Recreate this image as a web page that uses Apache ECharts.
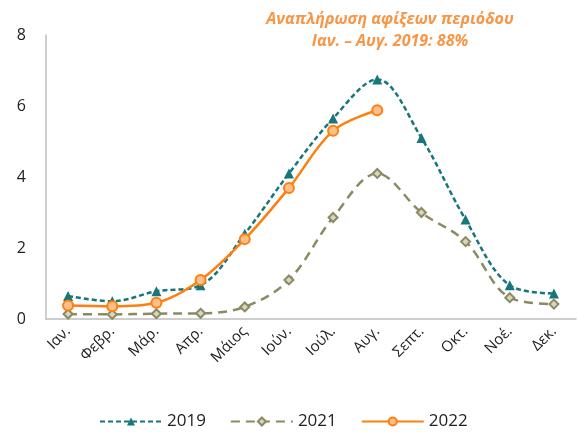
<!DOCTYPE html>
<html>
<head>
<meta charset="utf-8">
<script src="https://cdn.jsdelivr.net/npm/echarts@6/dist/echarts.min.js"></script>
<style>
html, body { margin: 0; padding: 0; background: #fff; }
#chart { width: 578px; height: 432px; }
</style>
</head>
<body>
<div id="chart"></div>
<script>
// months
var months = ['Ιαν.', 'Φεβρ.', 'Μάρ.', 'Απρ.', 'Μάιος', 'Ιούν.', 'Ιούλ.', 'Αυγ.', 'Σεπτ.', 'Οκτ.', 'Νοέ.', 'Δεκ.']
var arrivals2019 = [0.65, 0.5, 0.78, 0.95, 2.4, 4.1, 5.65, 6.75, 5.1, 2.8, 0.95, 0.72]
var arrivals2021 = [0.14, 0.13, 0.15, 0.16, 0.34, 1.1, 2.86, 4.1, 3.0, 2.18, 0.6, 0.42]
var arrivals2022 = [0.38, 0.36, 0.46, 1.1, 2.25, 3.69, 5.3, 5.88]
var yTicks = [0, 2, 4, 6, 8]

var font = 'Open Sans'
var myChart = echarts.init(document.getElementById('chart'))
myChart.setOption({
    textStyle: { fontFamily: font },
    title: {
        text: 'Αναπλήρωση αφίξεων περιόδου\nΙαν. – Αυγ. 2019: 88%',
        left: 385,
        top: 3,
        textAlign: 'center',
        textStyle: {
            color: '#f79646',
            fontSize: 16,
            fontWeight: 'bold',
            fontStyle: 'italic',
            lineHeight: 22,
            fontFamily: font
        }
    },
    grid: { left: 46, right: 2, top: 35, bottom: 113 },
    legend: {
        top: 408,
        left: 94,
        itemWidth: 62,
        itemHeight: 10,
        itemGap: 24,
        textStyle: { fontSize: 17, color: '#222', fontFamily: font },
        data: ['2019', '2021', '2022']
    },
    xAxis: {
        type: 'category',
        data: months,
        boundaryGap: true,
        axisTick: { show: false },
        axisLine: { lineStyle: { color: '#bfbfbf', width: 1.5 } },
        axisLabel: { rotate: 45, fontSize: 15, color: '#222', margin: 10, interval: 0 }
    },
    yAxis: {
        type: 'value',
        min: yTicks[0],
        max: yTicks[yTicks.length - 1],
        interval: 2,
        axisLine: { show: true, lineStyle: { color: '#bfbfbf', width: 1.5 } },
        axisTick: { show: false },
        splitLine: { show: false },
        axisLabel: { fontSize: 16, color: '#222', margin: 20 }
    },
    series: [
        {
            name: '2019',
            type: 'line',
            data: arrivals2019,
            smooth: 0.35,
            symbol: 'triangle',
            symbolSize: 10,
            lineStyle: { color: '#17767a', width: 2.5, type: [5, 3] },
            itemStyle: { color: '#17767a' }
        },
        {
            name: '2021',
            type: 'line',
            data: arrivals2021,
            smooth: 0.35,
            symbol: 'diamond',
            symbolSize: 9,
            lineStyle: { color: '#8b8a63', width: 2.5, type: [9, 6] },
            itemStyle: { color: '#d9d6c0', borderColor: '#8b8a63', borderWidth: 2 }
        },
        {
            name: '2022',
            type: 'line',
            data: arrivals2022,
            smooth: 0.35,
            symbol: 'circle',
            symbolSize: 10,
            lineStyle: { color: '#ff7f0e', width: 2.5 },
            itemStyle: { color: '#ffbf8a', borderColor: '#ff7f0e', borderWidth: 2 }
        }
    ]
})
</script>
</body>
</html>
